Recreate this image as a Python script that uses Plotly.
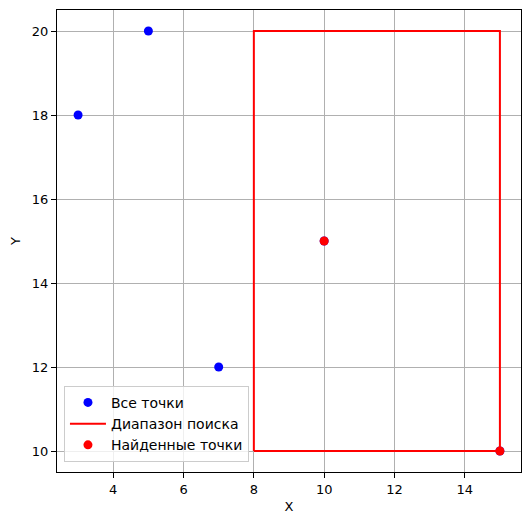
import plotly.graph_objects as go

# all points
all_x = [3, 5, 7, 10, 15]
all_y = [18, 20, 12, 15, 10]

# search range rectangle
x_min, x_max = 8, 15
y_min, y_max = 10, 20

# found points
found_x = [10, 15]
found_y = [15, 10]

rect_x = [x_min, x_max, x_max, x_min, x_min]
rect_y = [y_min, y_min, y_max, y_max, y_min]

fig = go.Figure()
fig.add_trace(go.Scatter(
    x=all_x, y=all_y, mode="markers", name="Все точки",
    marker=dict(color="blue", size=9),
))
fig.add_trace(go.Scatter(
    x=rect_x, y=rect_y, mode="lines", name="Диапазон поиска",
    line=dict(color="red", width=2),
))
fig.add_trace(go.Scatter(
    x=found_x, y=found_y, mode="markers", name="Найденные точки",
    marker=dict(color="red", size=9),
))

axis_style = dict(
    showline=True, linecolor="black", linewidth=1, mirror=True,
    ticks="outside", ticklen=5, tickcolor="black",
    showgrid=True, gridcolor="#b0b0b0", gridwidth=1,
    zeroline=False,
    tickfont=dict(family="DejaVu Sans", size=13, color="black"),
    title_font=dict(family="DejaVu Sans", size=13, color="black"),
)

fig.update_xaxes(range=[2.4, 15.6], tickvals=[4, 6, 8, 10, 12, 14],
                 title_text="X", title_standoff=6, **axis_style)
fig.update_yaxes(range=[9.5, 20.5], tickvals=[10, 12, 14, 16, 18, 20],
                 title_text="Y", title_standoff=10, **axis_style)

# page body adds an 8px offset, so the figure is 8px smaller
fig.update_layout(
    width=524, height=517,
    margin=dict(l=49, r=11, t=2, b=53),
    plot_bgcolor="white", paper_bgcolor="white",
    font=dict(family="DejaVu Sans", size=13, color="black"),
    legend=dict(
        x=0.015, y=0.022, xanchor="left", yanchor="bottom",
        bgcolor="rgba(255,255,255,0.8)", bordercolor="#cccccc", borderwidth=1,
        font=dict(size=14), tracegroupgap=0, itemwidth=36,
    ),
)

fig.write_html("out.html")
